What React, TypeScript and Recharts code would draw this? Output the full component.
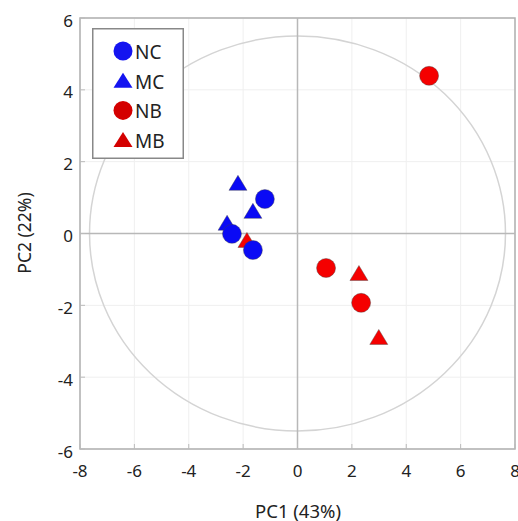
import React from 'react';
import {
  ScatterChart, Scatter, XAxis, YAxis, CartesianGrid, ReferenceLine, ReferenceArea, Legend,
} from 'recharts';

const X_TICKS = [-8, -6, -4, -2, 0, 2, 4, 6, 8];
const Y_TICKS = [-6, -4, -2, 0, 2, 4, 6];
const X_LABEL = 'PC1 (43%)';
const Y_LABEL = 'PC2 (22%)';

const NC = [
  { x: -1.2, y: 0.96 },
  { x: -2.41, y: -0.01 },
  { x: -1.64, y: -0.46 },
];
const MC = [
  { x: -2.19, y: 1.41 },
  { x: -1.64, y: 0.63 },
  { x: -2.59, y: 0.3 },
];
const NB = [
  { x: 1.05, y: -0.96 },
  { x: 2.34, y: -1.93 },
  { x: 4.84, y: 4.39 },
];
const MB = [
  { x: -1.86, y: -0.18 },
  { x: 2.26, y: -1.1 },
  { x: 2.99, y: -2.88 },
];

const ELLIPSE_RX = 7.65;
const ELLIPSE_RY = 5.5;

const LEGEND_ITEMS = [
  { name: 'NC', color: '#1414f0', shape: 'circle' },
  { name: 'MC', color: '#1414f0', shape: 'triangle' },
  { name: 'NB', color: '#d40000', shape: 'circle' },
  { name: 'MB', color: '#d40000', shape: 'triangle' },
];

const BLUE = '#0a0af5';
const RED = '#f50000';
const FONT = '"Noto Sans", "Open Sans", sans-serif';

const circleShape = (color: string) => (props: any) => (
  <circle cx={props.cx} cy={props.cy} r={9.5} fill={color} stroke="#444" strokeOpacity={0.5} strokeWidth={0.8} />
);
const triangleShape = (color: string) => (props: any) => {
  const { cx, cy } = props;
  const w = 9, h = 7.5;
  return (
    <polygon
      points={`${cx},${cy - h} ${cx + w},${cy + h} ${cx - w},${cy + h}`}
      fill={color}
      stroke="#444"
      strokeOpacity={0.5}
      strokeWidth={0.8}
    />
  );
};

const XTick = (props: any) => {
  const { x, y, payload } = props;
  return (
    <g>
      <line x1={x} x2={x} y1={y} y2={y - 5} stroke="#bbb" />
      <text x={x} y={y + 21} textAnchor="middle" dominantBaseline="central" fontSize={17} fill="#222" fontFamily={FONT}>
        {payload.value}
      </text>
    </g>
  );
};

const YTick = (props: any) => {
  const { x, y, payload } = props;
  return (
    <g>
      <line x1={x} x2={x + 5} y1={y} y2={y} stroke="#bbb" />
      <text x={x - 7} y={y + 2} textAnchor="end" dominantBaseline="central" fontSize={17} fill="#222" fontFamily={FONT}>
        {payload.value}
      </text>
    </g>
  );
};

const renderLegend = () => (
  <svg width={92} height={131} style={{ display: 'block' }}>
    <rect x={0.75} y={0.75} width={90.5} height={129.5} fill="#fff" stroke="#888" strokeWidth={1.5} />
    {LEGEND_ITEMS.map((it, i) => {
      const cy = 23 + i * 29.7;
      const cx = 31;
      return (
        <g key={it.name}>
          {it.shape === 'circle' ? (
            <circle cx={cx} cy={cy} r={9.5} fill={it.color} />
          ) : (
            <polygon points={`${cx},${cy - 8} ${cx + 9.5},${cy + 7} ${cx - 9.5},${cy + 7}`} fill={it.color} />
          )}
          <text x={43} y={cy + 1} dominantBaseline="central" fontSize={19} fill="#222" fontFamily={FONT}>
            {it.name}
          </text>
        </g>
      );
    })}
  </svg>
);

const EllipseShape = (props: any) => {
  const { x, y, width, height } = props;
  return (
    <ellipse
      cx={x + width / 2}
      cy={y + height / 2}
      rx={Math.abs(width) / 2}
      ry={Math.abs(height) / 2}
      fill="none"
      stroke="#d4d4d4"
      strokeWidth={1.5}
    />
  );
};

export default function App() {
  return (
    <div style={{ position: 'absolute', left: 8, top: 8, width: 510, height: 513, overflow: 'hidden' }}>
      <ScatterChart width={510} height={513} margin={{ top: 10, right: 3, left: 0, bottom: 0 }}>
        <CartesianGrid stroke="#efefef" strokeWidth={1} />
        <XAxis
          type="number"
          dataKey="x"
          domain={[-8, 8]}
          ticks={X_TICKS}
          height={72}
          axisLine={false}
          tickLine={false}
          tickSize={0}
          tickMargin={0}
          tick={<XTick />}
          interval={0}
          allowDataOverflow
        />
        <YAxis
          type="number"
          dataKey="y"
          domain={[-6, 6]}
          ticks={Y_TICKS}
          width={72}
          axisLine={false}
          tickLine={false}
          tickSize={0}
          tickMargin={0}
          tick={<YTick />}
          interval={0}
          allowDataOverflow
        />
        <ReferenceArea
          x1={-ELLIPSE_RX}
          x2={ELLIPSE_RX}
          y1={-ELLIPSE_RY}
          y2={ELLIPSE_RY}
          shape={<EllipseShape />}
          ifOverflow="visible"
        />
        <ReferenceLine x={0} stroke="#b8b8b8" strokeWidth={1.5} />
        <ReferenceLine y={0} stroke="#b8b8b8" strokeWidth={1.5} />
        <ReferenceArea x1={-8} x2={8} y1={-6} y2={6} fill="none" fillOpacity={0} stroke="#b0b0b0" strokeWidth={1.5} />
        <Legend
          layout="horizontal"
          verticalAlign="middle"
          align="center"
          content={renderLegend}
          wrapperStyle={{ position: 'absolute', left: 84, top: 20, width: 92, height: 131 }}
        />
        <Scatter name="MC" data={MC} shape={triangleShape(BLUE)} isAnimationActive={false} />
        <Scatter name="MB" data={MB} shape={triangleShape(RED)} isAnimationActive={false} />
        <Scatter name="NC" data={NC} shape={circleShape(BLUE)} isAnimationActive={false} />
        <Scatter name="NB" data={NB} shape={circleShape(RED)} isAnimationActive={false} />
      </ScatterChart>
      <svg width={510} height={513} style={{ position: 'absolute', left: 0, top: 0, pointerEvents: 'none' }}>
        <text x={290} y={502} textAnchor="middle" dominantBaseline="central" fontSize={18.5} fill="#222" fontFamily={FONT}>
          {X_LABEL}
        </text>
        <text
          x={16}
          y={225}
          textAnchor="middle"
          dominantBaseline="central"
          fontSize={17.5}
          fill="#222"
          fontFamily={FONT}
          transform="rotate(-90 16 225)"
        >
          {Y_LABEL}
        </text>
      </svg>
    </div>
  );
}
